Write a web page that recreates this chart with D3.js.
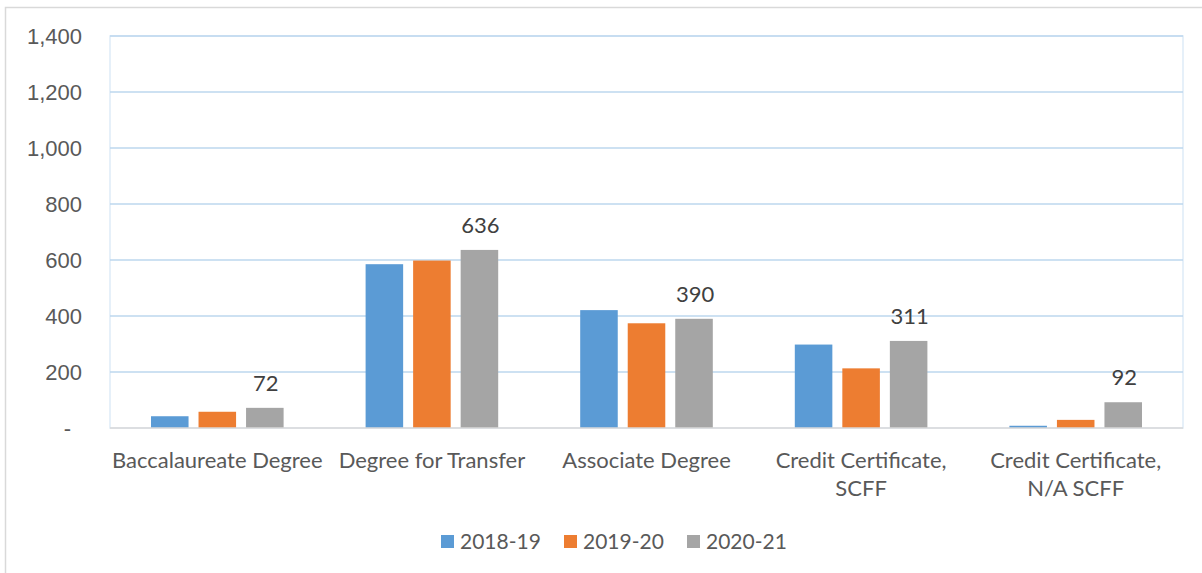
<!DOCTYPE html>
<html>
<head>
<meta charset="utf-8">
<script src="https://cdn.jsdelivr.net/npm/d3@7"></script>
<style>
  html, body { margin: 0; padding: 0; background: #fff; }
  svg { display: block; font-family: Lato, "Open Sans", sans-serif; }
</style>
</head>
<body>
<svg id="chart" width="1202" height="573"></svg>
<script>
// Chart data
var categories = [
  ["Baccalaureate Degree"],
  ["Degree for Transfer"],
  ["Associate Degree"],
  ["Credit Certificate,", "SCFF"],
  ["Credit Certificate,", "N/A SCFF"]
];
var seriesNames = ["2018-19", "2019-20", "2020-21"];
var values2018 = [42, 585, 421, 298, 8];
var values2019 = [58, 598, 374, 213, 29];
var values2020 = [72, 636, 390, 311, 92];
var yTicks = [0, 200, 400, 600, 800, 1000, 1200, 1400];

var seriesValues = [values2018, values2019, values2020];
var colours = ["#5b9bd5", "#ed7d31", "#a5a5a5"];

// Size of the plot area
var margin = { left: 110, right: 19, top: 36, bottom: 145 };
var width = 1202, height = 573;
var fontSize = "22px";

var svg = d3.select("#chart");

// Outer chart frame
svg.append("rect")
  .attr("x", 5.5).attr("y", 7.5)
  .attr("width", 1210).attr("height", 600)
  .attr("fill", "none")
  .attr("stroke", "#d9d9d9")
  .attr("stroke-width", 1.5);

var x0 = d3.scaleBand()
  .domain(d3.range(categories.length))
  .range([margin.left, width - margin.right]);

var x1 = d3.scaleBand()
  .domain(d3.range(seriesNames.length))
  .range([41, x0.bandwidth() - 41])
  .paddingInner(0.21);

var y = d3.scaleLinear()
  .domain([0, 1400])
  .range([height - margin.bottom, margin.top]);

// Plot area frame (light blue)
svg.append("rect")
  .attr("x", margin.left).attr("y", margin.top)
  .attr("width", width - margin.right - margin.left)
  .attr("height", y(0) - margin.top)
  .attr("fill", "none")
  .attr("stroke", "#deebf7")
  .attr("stroke-width", 1.5);

// Gridlines
svg.append("g")
  .selectAll("line")
  .data(yTicks.filter(function(d) { return d > 0; }))
  .enter().append("line")
  .attr("x1", margin.left).attr("x2", width - margin.right)
  .attr("y1", function(d) { return y(d); })
  .attr("y2", function(d) { return y(d); })
  .attr("stroke", "#bdd7ee")
  .attr("stroke-width", 1.5);

// Y axis labels
var yAxis = svg.append("g")
  .attr("transform", "translate(" + (margin.left - 28) + ",0)")
  .call(d3.axisLeft(y)
    .tickValues(yTicks)
    .tickSize(0)
    .tickPadding(0)
    .tickFormat(function(d) { return d === 0 ? "-" : d3.format(",")(d); }));
yAxis.select(".domain").remove();
yAxis.selectAll("text")
  .attr("fill", "#595959")
  .attr("font-size", fontSize)
  .attr("dx", function(d) { return d === 0 ? -11 : 0; });

// Bars
var groups = svg.append("g")
  .selectAll("g")
  .data(seriesValues)
  .enter().append("g")
  .attr("fill", function(d, i) { return colours[i]; });

groups.selectAll("rect")
  .data(function(d, i) { return d.map(function(v, c) { return { s: i, c: c, v: v }; }); })
  .enter().append("rect")
  .attr("x", function(d) { return x0(d.c) + x1(d.s); })
  .attr("width", x1.bandwidth())
  .attr("y", function(d) { return y(d.v); })
  .attr("height", function(d) { return y(0) - y(d.v); });

// Bottom axis line
svg.append("line")
  .attr("x1", margin.left).attr("x2", width - margin.right)
  .attr("y1", y(0)).attr("y2", y(0))
  .attr("stroke", "#d9d9d9")
  .attr("stroke-width", 1.5);

// Data labels on 2020-21 series
svg.append("g")
  .selectAll("text")
  .data(values2020)
  .enter().append("text")
  .attr("x", function(d, c) { return x0(c) + x1(2) + x1.bandwidth() / 2 + 1; })
  .attr("y", function(d) { return y(d) - 17; })
  .attr("text-anchor", "middle")
  .attr("fill", "#404040")
  .attr("font-size", fontSize)
  .text(function(d) { return d; });

// Category labels
var catLabels = svg.append("g")
  .selectAll("text")
  .data(categories)
  .enter().append("text")
  .attr("x", function(d, c) { return x0(c) + x0.bandwidth() / 2; })
  .attr("y", 468)
  .attr("text-anchor", "middle")
  .attr("fill", "#595959")
  .attr("font-size", fontSize);

catLabels.selectAll("tspan")
  .data(function(d) { return d; })
  .enter().append("tspan")
  .attr("x", function() { return d3.select(this.parentNode).attr("x"); })
  .attr("dy", function(d, i) { return i === 0 ? 0 : 28; })
  .text(function(d) { return d; });

// Legend
var legendX = [441, 564, 687];
var legend = svg.append("g")
  .selectAll("g")
  .data(seriesNames)
  .enter().append("g")
  .attr("transform", function(d, i) { return "translate(" + legendX[i] + ",535)"; });

legend.append("rect")
  .attr("width", 13).attr("height", 13)
  .attr("fill", function(d, i) { return colours[i]; });

legend.append("text")
  .attr("x", 19).attr("y", 14)
  .attr("fill", "#595959")
  .attr("font-size", "21px")
  .text(function(d) { return d; });
</script>
</body>
</html>
